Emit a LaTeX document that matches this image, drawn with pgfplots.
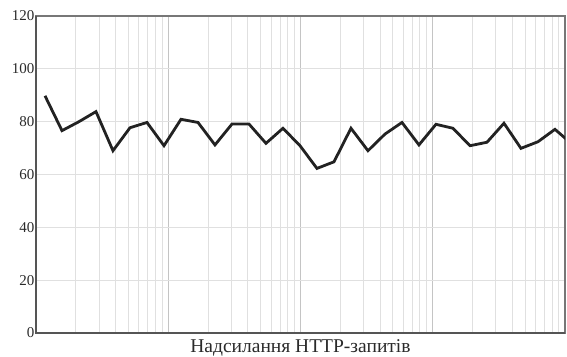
\documentclass[border=0pt]{standalone}
\usepackage{pgfplots}
\pgfplotsset{compat=1.18}
\usepackage{fontspec}
\setmainfont{Liberation Serif}
\definecolor{gridminor}{HTML}{E0E0E0}
\definecolor{gridmajor}{HTML}{C4C4C4}
\definecolor{axisc}{HTML}{555555}
\definecolor{linec}{HTML}{222222}
\definecolor{textc}{HTML}{2A2A2A}
\begin{document}
\begin{tikzpicture}
\begin{axis}[
  scale only axis, width=529pt, height=317pt,
  clip=false,
  xmode=log, xmin=1, xmax=10000,
  ymin=0, ymax=120, ytick={0,20,...,120},
  xtick={1,10,100,1000,10000}, xticklabels={},
  minor xtick={2,3,4,5,6,7,8,9,20,30,40,50,60,70,80,90,200,300,400,500,600,700,800,900,2000,3000,4000,5000,6000,7000,8000,9000},
  xmajorgrids, xminorgrids, ymajorgrids,
  major grid style={draw=gridmajor, line width=1pt},
  minor grid style={draw=gridminor, line width=1pt},
  y grid style={draw=gridminor, line width=1pt},
  major tick length=0pt, minor tick length=0pt,
  axis line style={draw=axisc!80, line width=1.4pt},
  /pgf/number format/assume math mode=true,
  yticklabel style={font=\rmfamily\fontsize{15}{17}\selectfont, text=textc, inner xsep=1.5pt},
  xlabel={Надсилання HTTP-запитів},
  xlabel style={font=\rmfamily\fontsize{19.5}{22}\selectfont, text=textc, yshift=4pt},
]
\coordinate (bl) at (rel axis cs:0,0);
\coordinate (tr) at (rel axis cs:1,1);
\draw[draw=axisc, line width=2.2pt] (rel axis cs:0,1) -- (rel axis cs:0,0) -- (rel axis cs:1,0);
\end{axis}
\begin{axis}[
  scale only axis, width=529pt, height=317pt,
  xmin=-0.529, xmax=30.59, ymin=0, ymax=120,
  hide axis,
]
\addplot[linec, line width=2.8pt, line join=miter] coordinates {
(0,89.8) (1,76.6) (2,80.0) (3,83.8) (4,69.0) (5,77.7) (6,79.7) (7,70.9)
(8,80.9) (9,79.7) (10,71.2) (11,79.1) (12,79.1) (13,71.8) (14,77.5) (15,70.9)
(16,62.3) (17,64.8) (18,77.5) (19,69.0) (20,75.3) (21,79.7) (22,71.2) (23,79.0)
(24,77.5) (25,70.9) (26,72.2) (27,79.4) (28,69.9) (29,72.4) (30,77.1) (31,71.5)
};
\end{axis}
\pgfresetboundingbox
\path[use as bounding box] ([shift={(-36pt,-23.5pt)}]bl) rectangle ([shift={(2pt,16pt)}]tr);
\end{tikzpicture}
\end{document}
